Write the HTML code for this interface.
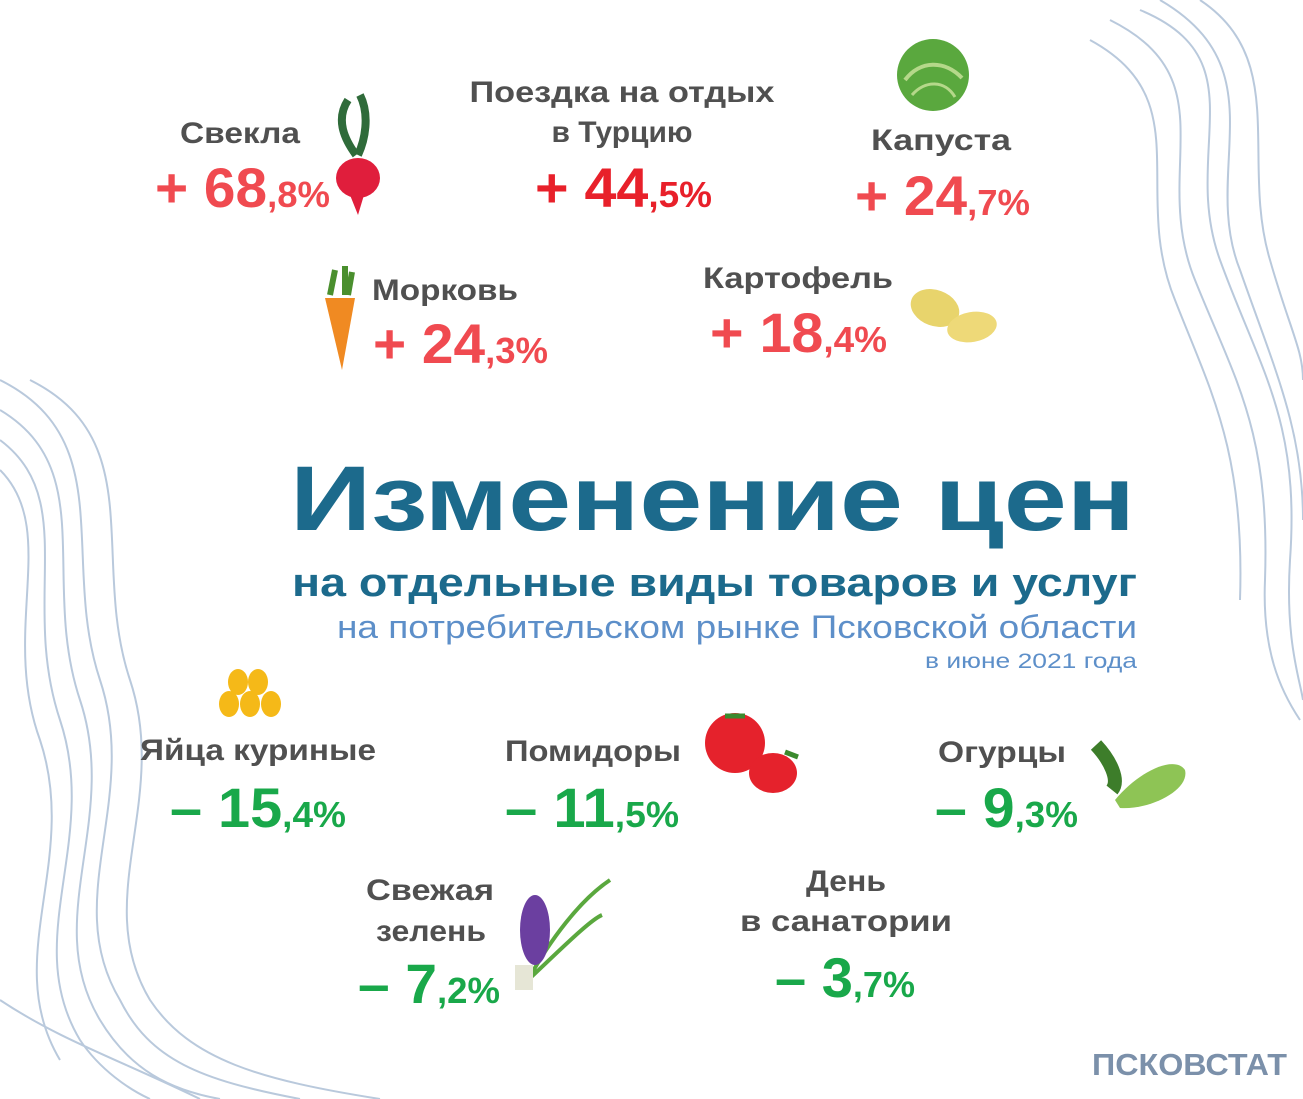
<!DOCTYPE html>
<html><head><meta charset="utf-8"><style>
html,body{margin:0;padding:0;background:#fff;}
svg{display:block;font-family:"Liberation Sans",sans-serif;}
.lbl{font-size:30px;font-weight:bold;fill:#505050;}
.up{font-weight:bold;fill:#f04a50;}
.dn{font-weight:bold;fill:#19a84a;}
</style></head><body>
<svg width="1303" height="1099" viewBox="0 0 1303 1099">
<g fill="none" stroke="#b9c9dc" stroke-width="2">
<path d="M1140 10 C1260 60 1180 150 1220 260 C1260 370 1300 420 1290 560 C1285 640 1300 680 1303 700"/>
<path d="M1160 0 C1280 70 1200 170 1240 270 C1275 370 1303 430 1303 520"/>
<path d="M1110 20 C1230 80 1150 170 1195 280 C1235 380 1270 430 1265 580 C1262 650 1280 690 1300 720"/>
<path d="M1200 0 C1290 60 1240 160 1270 260 C1290 330 1303 350 1303 380"/>
<path d="M1090 40 C1200 100 1130 190 1175 300 C1210 390 1245 450 1240 600"/>
<path d="M0 380 C120 440 60 560 100 680 C140 800 60 900 120 1000 C150 1060 200 1080 300 1099"/>
<path d="M0 410 C100 470 40 580 80 700 C120 820 40 920 100 1020 C130 1070 170 1090 220 1099"/>
<path d="M0 440 C80 500 20 600 60 720 C100 840 20 940 80 1040 C100 1070 130 1090 150 1099"/>
<path d="M0 470 C60 530 0 630 40 740 C80 860 0 960 60 1060"/>
<path d="M30 380 C150 440 90 560 130 680 C170 800 90 900 150 1000 C190 1060 260 1080 380 1099"/>
<path d="M0 1000 C60 1040 120 1060 200 1099"/>
</g>
<g>
<text x="290" y="530" font-size="92" font-weight="bold" fill="#1c6a8c" textLength="845" lengthAdjust="spacingAndGlyphs">Изменение цен</text>
<text x="292" y="596" font-size="40" font-weight="bold" fill="#1c6a8c" textLength="845" lengthAdjust="spacingAndGlyphs">на отдельные виды товаров и услуг</text>
<text x="337" y="638" font-size="32" fill="#5d8fc9" textLength="800" lengthAdjust="spacingAndGlyphs">на потребительском рынке Псковской области</text>
<text x="925" y="668" font-size="21" fill="#5d8fc9" textLength="212" lengthAdjust="spacingAndGlyphs">в июне 2021 года</text>
</g>
<g>
<g><path d="M348 100 C335 120 345 140 356 155 M360 95 C370 115 365 140 358 155" stroke="#2f6b3a" stroke-width="8" fill="none"/><ellipse cx="358" cy="178" rx="22" ry="20" fill="#e01e3c"/><path d="M350 195 L358 215 L364 195Z" fill="#e01e3c"/></g>
<g><circle cx="933" cy="75" r="36" fill="#5aa83e"/><path d="M905 80 C920 60 945 60 962 78" stroke="#b5d88a" stroke-width="4" fill="none"/><path d="M912 95 C925 80 945 80 955 97" stroke="#b5d88a" stroke-width="3" fill="none"/></g>
<g><path d="M335 270 L330 295 M345 266 L345 295 M352 272 L348 295" stroke="#4a8f2e" stroke-width="6"/><path d="M325 298 L355 298 L342 370 Z" fill="#f08a22"/></g>
<g><ellipse cx="935" cy="308" rx="25" ry="18" fill="#e8d46c" transform="rotate(20 935 308)"/><ellipse cx="972" cy="327" rx="25" ry="15" fill="#eed978" transform="rotate(-10 972 327)"/></g>
<g fill="#f5b918"><ellipse cx="238" cy="682" rx="10" ry="13"/><ellipse cx="258" cy="682" rx="10" ry="13"/><ellipse cx="229" cy="704" rx="10" ry="13"/><ellipse cx="250" cy="704" rx="10" ry="13"/><ellipse cx="271" cy="704" rx="10" ry="13"/></g>
<g><circle cx="735" cy="743" r="30" fill="#e5222c"/><ellipse cx="773" cy="773" rx="24" ry="20" fill="#e5222c"/><path d="M725 716 L745 716 M785 752 L798 757" stroke="#3b8a2e" stroke-width="5"/></g>
<g><path d="M1096 745 C1110 760 1120 780 1112 790" stroke="#3d7d2a" stroke-width="14" fill="none"/><path d="M1115 800 C1140 770 1175 755 1185 770 C1190 790 1150 810 1120 808Z" fill="#8ec455"/></g>
<g><path d="M528 980 C550 940 580 900 610 880 M528 980 C560 950 590 920 602 915" stroke="#5aa83e" stroke-width="4" fill="none"/><ellipse cx="535" cy="930" rx="15" ry="35" fill="#6b3fa0"/><rect x="515" y="965" width="18" height="25" fill="#e6e6d6"/></g>
</g>
<g>
<text class="lbl" x="180" y="143" textLength="120" lengthAdjust="spacingAndGlyphs">Свекла</text>
<text class="up" x="155" y="207" textLength="175" lengthAdjust="spacingAndGlyphs"><tspan font-size="56">+ 68</tspan><tspan font-size="36">,8%</tspan></text>
<text class="lbl" x="622" y="102" text-anchor="middle" textLength="305" lengthAdjust="spacingAndGlyphs">Поездка на отдых</text>
<text class="lbl" x="622" y="142" text-anchor="middle">в Турцию</text>
<text class="up" x="535" y="207" textLength="177" lengthAdjust="spacingAndGlyphs" style="fill:#e8202a"><tspan font-size="56">+ 44</tspan><tspan font-size="36">,5%</tspan></text>
<text class="lbl" x="871" y="150" textLength="140" lengthAdjust="spacingAndGlyphs">Капуста</text>
<text class="up" x="855" y="215" textLength="175" lengthAdjust="spacingAndGlyphs"><tspan font-size="56">+ 24</tspan><tspan font-size="36">,7%</tspan></text>
<text class="lbl" x="372" y="300" textLength="146" lengthAdjust="spacingAndGlyphs">Морковь</text>
<text class="up" x="373" y="363" textLength="175" lengthAdjust="spacingAndGlyphs"><tspan font-size="56">+ 24</tspan><tspan font-size="36">,3%</tspan></text>
<text class="lbl" x="703" y="288" textLength="190" lengthAdjust="spacingAndGlyphs">Картофель</text>
<text class="up" x="710" y="352" textLength="177" lengthAdjust="spacingAndGlyphs"><tspan font-size="56">+ 18</tspan><tspan font-size="36">,4%</tspan></text>
</g>
<g>
<text class="lbl" x="140" y="760" textLength="236" lengthAdjust="spacingAndGlyphs">Яйца куриные</text>
<text class="dn" x="170" y="827" textLength="176" lengthAdjust="spacingAndGlyphs"><tspan font-size="56">– 15</tspan><tspan font-size="36">,4%</tspan></text>
<text class="lbl" x="505" y="761" textLength="176" lengthAdjust="spacingAndGlyphs">Помидоры</text>
<text class="dn" x="505" y="827" textLength="174" lengthAdjust="spacingAndGlyphs"><tspan font-size="56">– 11</tspan><tspan font-size="36">,5%</tspan></text>
<text class="lbl" x="938" y="762" textLength="128" lengthAdjust="spacingAndGlyphs">Огурцы</text>
<text class="dn" x="935" y="827" textLength="143" lengthAdjust="spacingAndGlyphs"><tspan font-size="56">– 9</tspan><tspan font-size="36">,3%</tspan></text>
<text class="lbl" x="366" y="900" textLength="128" lengthAdjust="spacingAndGlyphs">Свежая</text>
<text class="lbl" x="376" y="941" textLength="110" lengthAdjust="spacingAndGlyphs">зелень</text>
<text class="dn" x="358" y="1003" textLength="142" lengthAdjust="spacingAndGlyphs"><tspan font-size="56">– 7</tspan><tspan font-size="36">,2%</tspan></text>
<text class="lbl" x="806" y="891" textLength="80" lengthAdjust="spacingAndGlyphs">День</text>
<text class="lbl" x="846" y="931" text-anchor="middle" textLength="212" lengthAdjust="spacingAndGlyphs">в санатории</text>
<text class="dn" x="775" y="997" textLength="140" lengthAdjust="spacingAndGlyphs"><tspan font-size="56">– 3</tspan><tspan font-size="36">,7%</tspan></text>
</g>
<text x="1092" y="1075" font-size="31" font-weight="bold" fill="#7b90aa" textLength="195" lengthAdjust="spacingAndGlyphs">ПСКОВСТАТ</text>
</svg>
</body></html>
